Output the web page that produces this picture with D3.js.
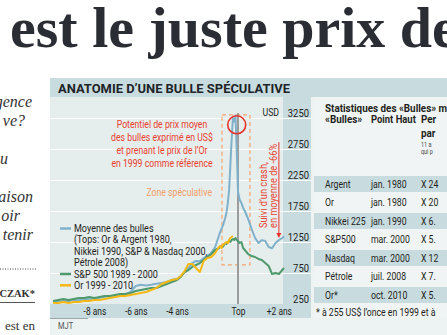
<!DOCTYPE html>
<html><head><meta charset="utf-8">
<script src="https://cdn.jsdelivr.net/npm/d3@7"></script>
<style>
html,body{margin:0;padding:0;background:#fff;overflow:hidden;}
svg{display:block;}
</style></head><body>
<svg id="c" width="447" height="335"></svg>
<script>
// ---------- DATA ----------
const months = [-120,-117,-114,-111,-108,-105,-102,-99,-96,-93,
  -90,-87,-84,-81,-78,-75,-72,-69,-66,-63,
  -60,-57,-54,-51,-48,-45,-42,-39,-36,-33,
  -30,-27,-24,-21,-18,-15,
  -14,-13,-12,-11,-10,-9,-8,-7,-6,-5,
  -4,-3,-2,-1,0,1,2,3,4,
  6,8,10,12,14,16,18,20,22,24,
  26,27];
const avgBubble = [280,285,300,295,315,310,330,325,345,350,
  365,380,375,395,410,445,540,560,550,560,
  575,590,605,640,655,700,765,830,910,945,
  940,990,1025,1075,1170,1350,
  1410,1460,1510,1575,1640,1735,1880,2090,2490,2900,
  3250,3190,3290,2730,2060,1930,1880,1800,1750,
  1620,1460,1315,1235,1280,1265,1170,1150,1235,1280,
  1315,1345];
const sp500 = [298,315,331,315,331,347,347,363,347,363,
  379,379,395,411,411,427,460,476,492,508,
  508,540,573,605,637,686,766,798,847,879,
  911,960,1008,1056,1121,1153,
  1169,1186,1169,1202,1234,1218,1250,1266,1250,1282,
  1298,1282,1315,1282,1266,1234,1250,1153,1121,
  1056,1024,1008,976,960,911,863,734,750,734,
  798,831];
const gold = [266,266,282,266,282,282,298,298,315,315,
  331,347,363,379,379,395,411,427,444,476,
  508,573,605,637,653,702,782,895,895,831,
  766,944,992,1008,1073,1169,
  1186,1153,1202,1218,1234,1250,1234,1282,1315,1331,
  1347,null,null,null,null,null,null,null,null,
  null,null,null,null,null,null,null,null,null,null,
  null,null];
const yTicks = [250,750,1250,1750,2250,2750,3250];
const xTicks = [-96,-72,-48,0,24];
const xTickLabels = ["-8 ans","-6 ans","-4 ans","Top","+2 ans"];
const seriesNames = ["Moyenne des bulles","S&P 500 1989 - 2000","Or 1999 - 2010"];
const seriesColors = ["#80b1ca","#4f9a6d","#f7b814"];
const legendExtra = ["(Tops: Or & Argent  1980,","Nikkei 1990, S&P & Nasdaq 2000,","Pétrole 2008)"];
const noteLines = ["Potentiel de prix moyen","des bulles exprimé en US$","et prenant le prix de l’Or","en 1999 comme référence"];
const crashLines = ["Suivi d’un crash,","en moyenne de -66%"];
const statsBubbles = ["Argent","Or","Nikkei 225","S&P500","Nasdaq","Pétrole","Or*"];
const statsPeaks = ["jan. 1980","jan. 1980","jan. 1990","mar. 2000","mar. 2000","juil. 2008","oct. 2010"];
const statsPerf = ["X 24","X 20","X 6.","X 5.","X 12","X 7.","X 5."];
const sideText = [["gence",32,107],["ve?",25,126],["u",8,164],["aison",33,202],["oir",20,221],["tenir",33,240]];

// ---------- SETUP ----------
const svg = d3.select("#c");
const SANS = "Roboto, 'Open Sans', sans-serif";
const K = 0.83;
const BAND = "#c8dce0";
function ctext(g, x, y, str, o = {}) {
  return g.append("text")
    .attr("transform", `translate(${x},${y})${o.rotate ? ` rotate(${o.rotate})` : ""} scale(${o.k ?? K},1)`)
    .attr("font-family", SANS)
    .attr("font-size", o.size || 10.5)
    .attr("font-weight", o.weight || "normal")
    .attr("fill", o.fill || "#231f20")
    .attr("text-anchor", o.anchor || "start")
    .text(str);
}

// headline
svg.append("text").attr("x", 10).attr("y", 47)
  .attr("font-family", "'Liberation Serif', 'DejaVu Serif', serif")
  .attr("font-weight", "bold").attr("font-size", 58).attr("fill", "#2a2d33")
  .text("est le juste prix de");

// left column
sideText.forEach(([t, x, y]) => {
  svg.append("text").attr("x", x).attr("y", y).attr("text-anchor", "end")
    .attr("font-family", "'Liberation Serif', serif").attr("font-style", "italic")
    .attr("font-size", 16).attr("fill", "#333").text(t);
});
svg.append("line").attr("x1", 0).attr("x2", 36).attr("y1", 269).attr("y2", 269)
  .attr("stroke", "#444").attr("stroke-width", 1).attr("stroke-dasharray", "1,1.5");
svg.append("text").attr("x", 35).attr("y", 297).attr("text-anchor", "end")
  .attr("font-family", "'Liberation Serif', serif").attr("font-weight", "bold")
  .attr("font-size", 10.5).attr("fill", "#333").text("CZAK*");
svg.append("line").attr("x1", 0).attr("x2", 35).attr("y1", 302.5).attr("y2", 302.5)
  .attr("stroke", "#555").attr("stroke-width", 1);
svg.append("text").attr("x", 35).attr("y", 330).attr("text-anchor", "end")
  .attr("font-family", "'Liberation Serif', serif")
  .attr("font-size", 13).attr("fill", "#333").text("est en");

// chart box
svg.append("rect").attr("x", 50).attr("y", 78).attr("width", 397).attr("height", 257).attr("fill", "#edf2f2");
svg.append("rect").attr("x", 50).attr("y", 78).attr("width", 397).attr("height", 19).attr("fill", BAND);
ctext(svg, 58, 92.5, "ANATOMIE D’UNE BULLE SPÉCULATIVE", { size: 12.8, weight: "bold", k: 1.01, fill: "#1e2428" });

// scales
const x = d3.scaleLinear().domain([-121.8, -48, 0, 27]).range([50, 177, 238, 284]);
const y = d3.scaleLinear().domain([250, 3250]).range([304, 118]);

// plot panels
svg.append("rect").attr("x", 50).attr("y", 97).attr("width", 233).attr("height", 207).attr("fill", "#e6eded");
svg.append("rect").attr("x", 283).attr("y", 97).attr("width", 28).attr("height", 207).attr("fill", BAND);
svg.append("rect").attr("x", 50).attr("y", 304).attr("width", 261).attr("height", 14).attr("fill", BAND);
svg.append("rect").attr("x", 314).attr("y", 97).attr("width", 133).attr("height", 221).attr("fill", "#f0f4f4");
svg.append("line").attr("x1", 50).attr("x2", 88).attr("y1", 318.5).attr("y2", 318.5).attr("stroke", "#9aa6a8");
ctext(svg, 58, 329, "MJT", { size: 9, fill: "#555" });

// gridlines
svg.append("g").attr("transform", "translate(311,0)")
  .call(d3.axisLeft(y).tickValues(yTicks.slice(1)).tickSize(261).tickFormat(""))
  .call(g => g.select(".domain").remove())
  .call(g => g.selectAll("line").attr("stroke", "#fff").attr("stroke-width", 1));

// y axis labels
svg.append("g").attr("transform", "translate(309,0)")
  .call(d3.axisLeft(y).tickValues(yTicks).tickSize(0).tickPadding(0).tickFormat(d3.format("d")))
  .call(g => g.select(".domain").remove())
  .call(g => g.selectAll("text").attr("dy", "-2px").attr("font-family", SANS)
    .attr("font-size", 10.5).attr("fill", "#231f20").attr("transform", "scale(0.9,1)"));
ctext(svg, 279, y(3250) - 2, "USD", { anchor: "end" });

// x axis labels
svg.append("g").attr("transform", "translate(0,304)")
  .call(d3.axisBottom(x).tickValues(xTicks).tickSize(0).tickPadding(4).tickFormat((d, i) => xTickLabels[i]))
  .call(g => g.select(".domain").remove())
  .call(g => g.selectAll("text").attr("font-family", SANS)
    .attr("font-size", 10.5).attr("fill", "#231f20").attr("transform", "scale(0.8,1)"));

// speculative zone box
svg.append("rect").attr("x", x(-12.6)).attr("y", y(3300))
  .attr("width", x(7) - x(-12.6)).attr("height", y(880) - y(3300))
  .attr("fill", "none").attr("stroke", "#f5a46e").attr("stroke-width", 1.2).attr("stroke-dasharray", "4,3");
ctext(svg, 212, 195.5, "Zone spéculative", { anchor: "end", fill: "#f2a068" });

// note text
noteLines.forEach((t, i) => ctext(svg, 162, 127.5 + i * 13, t, { anchor: "middle", fill: "#e8412f" }));

// top line
svg.append("line").attr("x1", x(0)).attr("x2", x(0)).attr("y1", 113).attr("y2", 304)
  .attr("stroke", "#9c9c9c").attr("stroke-width", 2);

// series
const series = [avgBubble, sp500, gold];
series.forEach((vals, si) => {
  const line = d3.line()
    .defined((d, i) => vals[i] != null)
    .x((d, i) => x(months[i]))
    .y((d, i) => y(vals[i]));
  svg.append("path").datum(months).attr("d", line)
    .attr("fill", "none").attr("stroke", seriesColors[si]).attr("stroke-width", 2)
    .attr("stroke-linejoin", "round");
});

// red circle at peak
svg.append("circle").attr("cx", x(-1)).attr("cy", y(3140)).attr("r", 9)
  .attr("fill", "none").attr("stroke", "#e6332a").attr("stroke-width", 1.6);

// crash annotation
ctext(svg, 267, 228, crashLines[0], { rotate: -90, fill: "#e8412f", k: 0.88 });
ctext(svg, 277, 228, crashLines[1], { rotate: -90, fill: "#e8412f", k: 0.88 });
svg.append("line").attr("x1", x(24)).attr("x2", x(24)).attr("y1", y(2860)).attr("y2", y(1380))
  .attr("stroke", "#e6332a").attr("stroke-width", 1);
svg.append("path")
  .attr("d", `M${x(24) - 2.5},${y(1380) - 1}L${x(24) + 2.5},${y(1380) - 1}L${x(24)},${y(1380) + 4}Z`)
  .attr("fill", "#e6332a");

// legend
const legY = [232, 277.5, 288.8];
seriesNames.forEach((n, i) => {
  svg.append("line").attr("x1", 60).attr("x2", 71).attr("y1", legY[i] - 3.5).attr("y2", legY[i] - 3.5)
    .attr("stroke", seriesColors[i]).attr("stroke-width", 2.5);
  ctext(svg, 74, legY[i], n, { k: 0.86 });
});
legendExtra.forEach((t, i) => ctext(svg, 74, 243.3 + i * 11.3, t, { k: 0.86 }));

// stats table
const C1 = 325, C2 = 371, C3 = 421;
const rowY = statsBubbles.map((d, i) => 187.5 + i * 18.5);
rowY.forEach((ry, i) => {
  if (i % 2 === 0) svg.append("rect").attr("x", 314).attr("y", ry - 11.5).attr("width", 133).attr("height", 16).attr("fill", BAND);
});
ctext(svg, C1, 112, "Statistiques des «Bulles» m", { weight: "bold", k: 0.94 });
ctext(svg, C1, 123, "«Bulles»", { weight: "bold", k: 0.94 });
ctext(svg, C2, 123, "Point Haut", { weight: "bold", k: 0.9 });
ctext(svg, C3, 123, "Per", { weight: "bold", k: 0.94 });
ctext(svg, C3, 137, "par", { weight: "bold", k: 0.94 });
ctext(svg, C3, 146.5, "11 a", { size: 6.6, fill: "#444" });
ctext(svg, C3, 154, "qui p", { size: 6.6, fill: "#444" });
statsBubbles.forEach((b, i) => {
  ctext(svg, C1, rowY[i], b);
  ctext(svg, C2, rowY[i], statsPeaks[i]);
  ctext(svg, C3, rowY[i], statsPerf[i]);
});
ctext(svg, 316, 315.5, "* à 255 US$ l’once en 1999 et à");
</script>
</body></html>
